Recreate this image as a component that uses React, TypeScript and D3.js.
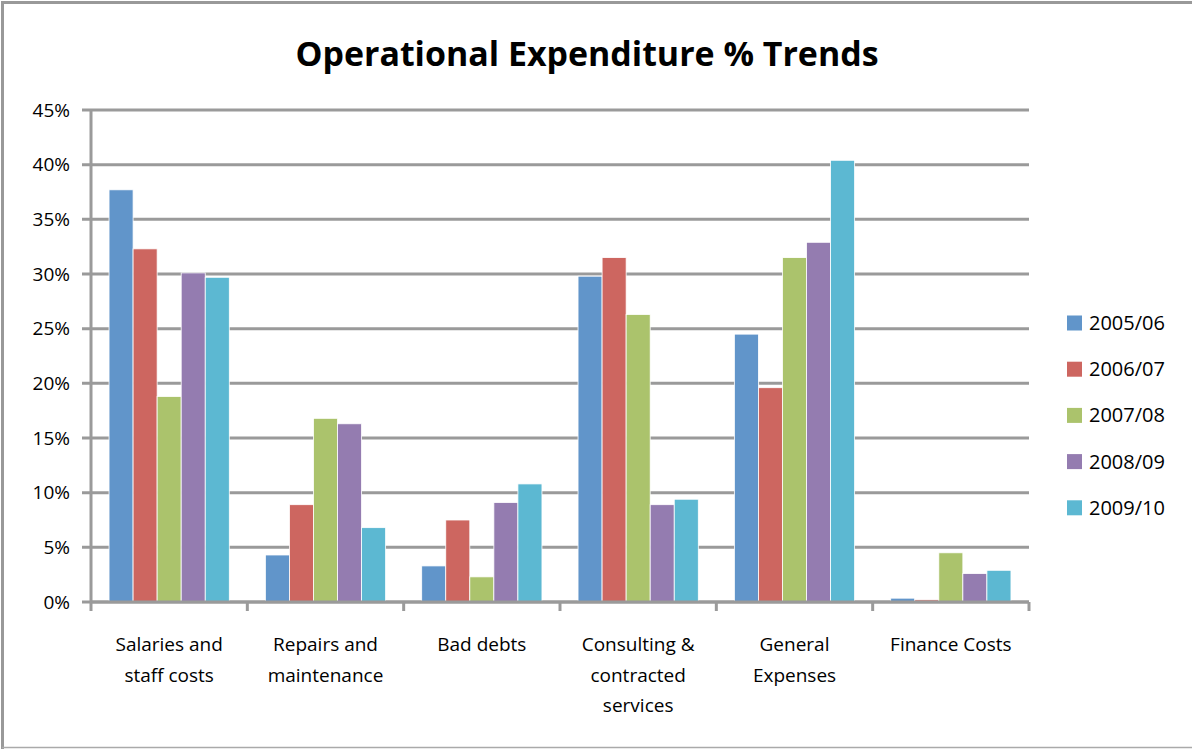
import React, { useEffect, useRef } from "react";
import * as d3 from "d3";

const categories = [
  ["Salaries and", "staff costs"],
  ["Repairs and", "maintenance"],
  ["Bad debts"],
  ["Consulting &", "contracted", "services"],
  ["General", "Expenses"],
  ["Finance Costs"],
];
const seriesNames = ["2005/06", "2006/07", "2007/08", "2008/09", "2009/10"];
const s0506 = [37.7, 4.3, 3.3, 29.8, 24.5, 0.35];
const s0607 = [32.3, 8.9, 7.5, 31.5, 19.6, 0.2];
const s0708 = [18.8, 16.8, 2.3, 26.3, 31.5, 4.5];
const s0809 = [30.1, 16.3, 9.1, 8.9, 32.9, 2.6];
const s0910 = [29.7, 6.8, 10.8, 9.4, 40.4, 2.9];
const yTicks = [0, 5, 10, 15, 20, 25, 30, 35, 40, 45];
const colors = ["#6195CA", "#CD6660", "#ABC36C", "#947CB0", "#5CB8D2"];

const W = 1192, H = 749;
const FONT = "'Open Sans', 'Liberation Sans', sans-serif";

export default function App() {
  const ref = useRef<SVGSVGElement>(null);
  useEffect(() => {
    const svg = d3.select(ref.current);
    svg.selectAll("*").remove();
    const series = [s0506, s0607, s0708, s0809, s0910];
    const left = 91, right = 1029, top = 110, bottom = 602;
    const x0 = d3.scaleBand<number>().domain(d3.range(categories.length)).range([left, right]).paddingInner(0).paddingOuter(0);
    const x1 = d3.scaleBand<number>().domain(d3.range(series.length)).range([0, x0.bandwidth()]).paddingOuter(0.75).paddingInner(0);
    const y = d3.scaleLinear().domain([0, 45]).range([bottom, top]);

    svg.append("rect").attr("x", 0).attr("y", 0).attr("width", W).attr("height", H).attr("fill", "#fff");
    svg.append("path").attr("d", `M${W},2.5 H2.5 V${H}`).attr("fill", "none").attr("stroke", "#999").attr("stroke-width", 3);
    svg.append("line").attr("x1", 2).attr("x2", W).attr("y1", 747.5).attr("y2", 747.5).attr("stroke", "#aaa").attr("stroke-width", 1.5);

    svg.append("text").attr("x", 587).attr("y", 66).attr("text-anchor", "middle")
      .attr("font-family", FONT).attr("font-weight", "bold").attr("font-size", 34)
      .attr("fill", "#000").attr("textLength", 583).attr("lengthAdjust", "spacingAndGlyphs")
      .text("Operational Expenditure % Trends");

    // gridlines
    const g = svg.append("g");
    yTicks.forEach((t) => {
      g.append("line").attr("x1", left - 9).attr("x2", right).attr("y1", y(t)).attr("y2", y(t))
        .attr("stroke", "#9a9a9a").attr("stroke-width", 3);
      g.append("text").attr("x", 70).attr("y", y(t)).attr("dy", "0.35em").attr("text-anchor", "end")
        .attr("font-family", FONT).attr("font-size", 19).attr("fill", "#000").text(`${t}%`);
    });
    g.append("line").attr("x1", left).attr("x2", left).attr("y1", top).attr("y2", bottom + 1)
      .attr("stroke", "#9a9a9a").attr("stroke-width", 3);

    // bars
    series.forEach((vals, si) => {
      svg.append("g").selectAll("rect").data(vals).join("rect")
        .attr("x", (_, i) => (x0(i) as number) + (x1(si) as number))
        .attr("width", x1.bandwidth())
        .attr("y", (d) => y(d))
        .attr("height", (d) => y(0) - y(d))
        .attr("fill", colors[si]).attr("stroke", "#ffffff").attr("stroke-width", 0.8);
    });

    // x axis
    svg.append("line").attr("x1", left).attr("x2", right).attr("y1", bottom).attr("y2", bottom)
      .attr("stroke", "#9a9a9a").attr("stroke-width", 3);
    d3.range(categories.length + 1).forEach((i) => {
      const xx = left + i * x0.bandwidth();
      svg.append("line").attr("x1", xx).attr("x2", xx).attr("y1", bottom).attr("y2", bottom + 9)
        .attr("stroke", "#9a9a9a").attr("stroke-width", 3);
    });
    categories.forEach((lines, i) => {
      const cx = (x0(i) as number) + x0.bandwidth() / 2;
      const t = svg.append("text").attr("text-anchor", "middle").attr("font-family", FONT)
        .attr("font-size", 19).attr("fill", "#000");
      lines.forEach((ln, li) => {
        t.append("tspan").attr("x", cx).attr("y", 651 + li * 30.5).text(ln);
      });
    });

    // legend
    seriesNames.forEach((n, i) => {
      const ly = 323 + i * 46.2;
      svg.append("rect").attr("x", 1067).attr("y", ly - 7.5).attr("width", 15).attr("height", 15).attr("fill", colors[i]);
      svg.append("text").attr("x", 1089).attr("y", ly).attr("dy", "0.35em").attr("font-family", FONT)
        .attr("font-size", 20).attr("fill", "#000").text(n);
    });
  }, []);
  return (
    <svg ref={ref} width={W} height={H} style={{ position: "absolute", left: 0, top: 0, display: "block" }} />
  );
}
